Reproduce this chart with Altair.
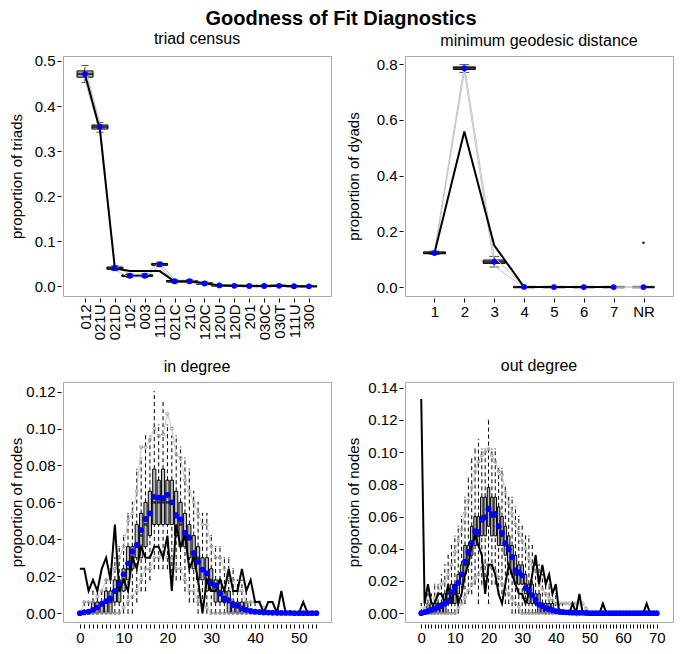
import json
import altair as alt
import pandas as pd

# ---------------- data ----------------
TRIAD_LABELS = ["012", "021U", "021D", "102", "003", "111D", "021C", "210",
                "120C", "120U", "120D", "201", "030C", "030T", "111U", "300"]
triad_q1 = [0.464, 0.349, 0.038, 0.0225, 0.0225, 0.047, 0.010, 0.010, 0.005, 0.0015, 0.001, 0.0005, 0.0005, 0.001, 0.0, 0.0]
triad_med = [0.471, 0.354, 0.0405, 0.024, 0.024, 0.049, 0.0115, 0.0115, 0.0065, 0.002, 0.0015, 0.001, 0.001, 0.0015, 0.0005, 0.0002]
triad_q3 = [0.478, 0.358, 0.043, 0.0255, 0.0255, 0.051, 0.013, 0.013, 0.008, 0.003, 0.002, 0.0015, 0.0015, 0.002, 0.001, 0.0005]
triad_wlo = [0.452, 0.342, 0.035, 0.020, 0.020, 0.044, 0.008, 0.008, 0.004, 0.0005, 0.0, 0.0, 0.0, 0.0, 0.0, 0.0]
triad_whi = [0.490, 0.364, 0.046, 0.028, 0.028, 0.054, 0.015, 0.015, 0.010, 0.004, 0.003, 0.0025, 0.0025, 0.003, 0.002, 0.001]
triad_glo = [0.456, 0.344, 0.036, 0.021, 0.021, 0.045, 0.009, 0.009, 0.0045, 0.001, 0.0005, 0.0, 0.0, 0.0005, 0.0, 0.0]
triad_ghi = [0.486, 0.362, 0.045, 0.027, 0.027, 0.053, 0.014, 0.014, 0.009, 0.0035, 0.0025, 0.002, 0.002, 0.0025, 0.0015, 0.0008]
triad_mean = [0.471, 0.354, 0.0405, 0.0237, 0.0237, 0.049, 0.0115, 0.0115, 0.0065, 0.0022, 0.0014, 0.001, 0.001, 0.0014, 0.0005, 0.0003]
triad_obs = [0.470, 0.347, 0.040, 0.034, 0.034, 0.034, 0.011, 0.0115, 0.007, 0.002, 0.0015, 0.0008, 0.0008, 0.0015, 0.0003, 0.0002]

GEO_LABELS = ["1", "2", "3", "4", "5", "6", "7", "NR"]
geo_q1 = [0.120, 0.781, 0.085, 0.0, 0.0, 0.0, 0.0, 0.0]
geo_med = [0.1225, 0.785, 0.090, 0.0, 0.0, 0.0, 0.0, 0.0]
geo_q3 = [0.126, 0.790, 0.097, 0.0, 0.0, 0.0, 0.0, 0.0]
geo_wlo = [0.117, 0.770, 0.072, 0.0, 0.0, 0.0, 0.0, 0.0]
geo_whi = [0.129, 0.798, 0.110, 0.002, 0.0, 0.0, 0.0, 0.0]
geo_glo = [0.119, 0.772, 0.075, 0.0, 0.0, 0.0, 0.0, 0.0]
geo_ghi = [0.127, 0.797, 0.108, 0.002, 0.0, 0.0, 0.0, 0.0]
geo_mean = [0.1224, 0.785, 0.091, 0.0005, 0.0, 0.0, 0.0, 0.0]
geo_obs = [0.122, 0.558, 0.150, 0.0, 0.0, 0.0, 0.0, 0.159]

IN_DEG = list(range(55))
in_q1 = [0, 0, 0, 0, 0, 0, 0, 0, 0.006, 0.006,
         0.012, 0.018, 0.024, 0.030, 0.030, 0.036, 0.042, 0.048, 0.048, 0.048,
         0.048, 0.048, 0.042, 0.036, 0.036, 0.030, 0.024, 0.018, 0.018, 0.012,
         0.012, 0.006, 0.006, 0.006, 0, 0, 0, 0, 0, 0,
         0, 0, 0, 0, 0, 0, 0, 0, 0, 0, 0, 0, 0, 0, 0]
in_med = [0, 0, 0, 0, 0, 0.006, 0.006, 0.006, 0.012, 0.012,
          0.018, 0.024, 0.030, 0.036, 0.042, 0.048, 0.054, 0.060, 0.060, 0.060,
          0.060, 0.060, 0.054, 0.048, 0.042, 0.042, 0.030, 0.030, 0.024, 0.018,
          0.018, 0.012, 0.012, 0.006, 0.006, 0.006, 0, 0, 0, 0,
          0, 0, 0, 0, 0, 0, 0, 0, 0, 0, 0, 0, 0, 0, 0]
in_q3 = [0, 0, 0, 0.006, 0.006, 0.006, 0.012, 0.012, 0.018, 0.018,
         0.024, 0.036, 0.036, 0.048, 0.054, 0.060, 0.066, 0.078, 0.072, 0.078,
         0.072, 0.072, 0.066, 0.060, 0.054, 0.048, 0.042, 0.036, 0.030, 0.030,
         0.024, 0.018, 0.018, 0.012, 0.012, 0.006, 0.006, 0.006, 0.006, 0,
         0, 0, 0, 0, 0, 0, 0, 0, 0, 0, 0, 0, 0, 0, 0]
in_wlo = [0, 0, 0, 0, 0, 0, 0, 0, 0, 0,
          0, 0, 0, 0.006, 0.012, 0.012, 0.018, 0.024, 0.024, 0.024,
          0.024, 0.018, 0.018, 0.018, 0.012, 0.006, 0.006, 0, 0, 0,
          0, 0, 0, 0, 0, 0, 0, 0, 0, 0,
          0, 0, 0, 0, 0, 0, 0, 0, 0, 0, 0, 0, 0, 0, 0]
in_whi = [0, 0.006, 0.006, 0.012, 0.012, 0.012, 0.018, 0.024, 0.030, 0.036,
          0.042, 0.054, 0.060, 0.078, 0.084, 0.096, 0.096, 0.120, 0.102, 0.114,
          0.102, 0.096, 0.096, 0.090, 0.084, 0.078, 0.066, 0.060, 0.054, 0.054,
          0.042, 0.036, 0.036, 0.030, 0.030, 0.024, 0.018, 0.018, 0.012, 0.006,
          0.006, 0, 0, 0, 0, 0, 0, 0, 0, 0, 0, 0, 0, 0, 0]
in_glo = [0, 0, 0, 0, 0, 0, 0, 0, 0, 0,
          0.003, 0.006, 0.009, 0.012, 0.018, 0.024, 0.024, 0.030, 0.030, 0.033,
          0.030, 0.030, 0.024, 0.024, 0.018, 0.012, 0.012, 0.006, 0.006, 0.003,
          0, 0, 0, 0, 0, 0, 0, 0, 0, 0,
          0, 0, 0, 0, 0, 0, 0, 0, 0, 0, 0, 0, 0, 0, 0]
in_ghi = [0, 0.006, 0.006, 0.006, 0.009, 0.012, 0.018, 0.018, 0.024, 0.030,
          0.036, 0.050, 0.054, 0.066, 0.090, 0.090, 0.094, 0.100, 0.096, 0.097,
          0.108, 0.100, 0.086, 0.084, 0.072, 0.066, 0.060, 0.054, 0.048, 0.048,
          0.036, 0.030, 0.030, 0.024, 0.018, 0.018, 0.012, 0.012, 0.006, 0.006,
          0.006, 0.006, 0.003, 0, 0, 0, 0, 0, 0, 0, 0, 0, 0, 0, 0]
in_mean = [0.0, 0.0004, 0.0008, 0.0018, 0.0030, 0.0050, 0.0065, 0.0080, 0.0120, 0.0158,
           0.0210, 0.0270, 0.0334, 0.0370, 0.0450, 0.0510, 0.0540, 0.0630, 0.0625, 0.0623,
           0.0640, 0.0600, 0.0528, 0.0507, 0.0435, 0.0408, 0.0326, 0.0278, 0.0236, 0.0215,
           0.0162, 0.0150, 0.0106, 0.0080, 0.0070, 0.0044, 0.0040, 0.0026, 0.0018, 0.0012,
           0.0008, 0.0006, 0.0004, 0.0003, 0.0002, 0.0002, 0.0001, 0.0001, 0.0001, 0.0,
           0.0, 0.0, 0.0, 0.0, 0.0]
in_obs = [0.024, 0.024, 0.012, 0.018, 0.012, 0.024, 0.030, 0.018, 0.048, 0.012,
          0.018, 0.012, 0.030, 0.024, 0.036, 0.030, 0.030, 0.036, 0.036, 0.030,
          0.042, 0.012, 0.048, 0.036, 0.042, 0.024, 0.030, 0.018, 0.000, 0.018,
          0.012, 0.012, 0.018, 0.012, 0.024, 0.012, 0.012, 0.024, 0.012, 0.018,
          0.006, 0.006, 0.000, 0.006, 0.006, 0.000, 0.012, 0.000, 0.000, 0.000,
          0.000, 0.006, 0.000, 0.000, 0.000]

OUT_DEG = list(range(71))
out_q1 = [0, 0, 0, 0, 0, 0, 0, 0, 0.006, 0.006,
          0.006, 0.012, 0.018, 0.024, 0.030, 0.036, 0.042, 0.042, 0.048, 0.048,
          0.054, 0.048, 0.048, 0.042, 0.042, 0.036, 0.030, 0.024, 0.018, 0.018,
          0.018, 0.012, 0.006, 0.006, 0.006, 0, 0, 0, 0, 0] + [0] * 31
out_med = [0, 0, 0, 0, 0, 0.006, 0.006, 0.006, 0.006, 0.012,
           0.012, 0.018, 0.024, 0.030, 0.036, 0.042, 0.048, 0.048, 0.060, 0.060,
           0.066, 0.060, 0.060, 0.054, 0.048, 0.042, 0.042, 0.036, 0.024, 0.024,
           0.024, 0.018, 0.012, 0.012, 0.006, 0.006, 0.006, 0, 0, 0] + [0] * 31
out_q3 = [0, 0, 0.006, 0.006, 0.006, 0.006, 0.006, 0.012, 0.012, 0.018,
          0.018, 0.024, 0.030, 0.042, 0.042, 0.054, 0.060, 0.060, 0.072, 0.072,
          0.078, 0.072, 0.072, 0.066, 0.060, 0.054, 0.048, 0.042, 0.036, 0.030,
          0.030, 0.024, 0.018, 0.018, 0.012, 0.012, 0.006, 0.006, 0.006, 0.006] + [0] * 31
out_wlo = [0, 0, 0, 0, 0, 0, 0, 0, 0, 0,
           0, 0, 0.006, 0.006, 0.012, 0.012, 0.018, 0.006, 0.018, 0.018,
           0.006, 0.018, 0.018, 0.012, 0.012, 0.006, 0.006, 0, 0, 0] + [0] * 41
out_whi = [0.006, 0.006, 0.012, 0.012, 0.018, 0.018, 0.024, 0.030, 0.036, 0.042,
           0.048, 0.054, 0.060, 0.072, 0.084, 0.096, 0.102, 0.108, 0.102, 0.102,
           0.120, 0.102, 0.102, 0.090, 0.090, 0.078, 0.072, 0.072, 0.066, 0.060,
           0.054, 0.048, 0.048, 0.042, 0.036, 0.030, 0.024, 0.018, 0.018, 0.012,
           0.012, 0.006, 0.006] + [0] * 28
out_glo = [0, 0, 0, 0, 0, 0, 0, 0, 0, 0,
           0, 0.003, 0.006, 0.010, 0.014, 0.018, 0.022, 0.024, 0.028, 0.030,
           0.030, 0.028, 0.026, 0.022, 0.018, 0.015, 0.012, 0.009, 0.006, 0.004] + [0] * 41
out_ghi = [0, 0.003, 0.006, 0.006, 0.009, 0.012, 0.018, 0.020, 0.024, 0.030,
           0.038, 0.045, 0.052, 0.062, 0.070, 0.078, 0.088, 0.094, 0.098, 0.100,
           0.102, 0.098, 0.094, 0.088, 0.086, 0.075, 0.068, 0.062, 0.055, 0.050,
           0.045, 0.040, 0.034, 0.030, 0.026, 0.020, 0.015, 0.012, 0.009, 0.008,
           0.006, 0.006, 0.006, 0.006, 0.006, 0.006, 0.006, 0.006, 0.006, 0.003] + [0] * 21
out_mean = [0.0, 0.0006, 0.0012, 0.0020, 0.0028, 0.0036, 0.0044, 0.0060, 0.0078, 0.0130,
            0.0160, 0.0190, 0.0240, 0.0320, 0.0380, 0.0437, 0.0510, 0.0505, 0.0580, 0.0595,
            0.0646, 0.0615, 0.0616, 0.0540, 0.0498, 0.0434, 0.0397, 0.0346, 0.0265, 0.0255,
            0.0235, 0.0154, 0.0144, 0.0110, 0.0083, 0.0053, 0.0043, 0.0032, 0.0024, 0.0018,
            0.0013, 0.0010, 0.0007, 0.0005, 0.0004, 0.0003, 0.0003, 0.0002, 0.0002, 0.0001] + [0.0] * 21
out_obs = [0.133, 0.006, 0.018, 0.006, 0.006, 0.012, 0.012, 0.006, 0.018, 0.006,
           0.018, 0.006, 0.012, 0.024, 0.030, 0.042, 0.048, 0.042, 0.036, 0.012,
           0.030, 0.030, 0.024, 0.012, 0.006, 0.018, 0.030, 0.024, 0.018, 0.012,
           0.012, 0.006, 0.012, 0.024, 0.036, 0.018, 0.030, 0.018, 0.024, 0.012,
           0.018, 0.0, 0.0, 0.0, 0.0, 0.006, 0.0, 0.012, 0.0, 0.0,
           0.0, 0.0, 0.0, 0.0, 0.006, 0.0, 0.0, 0.0, 0.0, 0.0,
           0.0, 0.0, 0.0, 0.0, 0.0, 0.0, 0.0, 0.006, 0.0, 0.0, 0.0]

FONT = "Liberation Sans"
W, H = 268, 240


def frame(pos, q1, med, q3, wlo, whi, glo, ghi, mean, obs):
    return pd.DataFrame({"pos": pos, "q1": q1, "med": med, "q3": q3, "wlo": wlo,
                         "whi": whi, "glo": glo, "ghi": ghi, "mean": mean, "obs": obs})


def panel(df, title, ytitle, xdomain, xvalues, xlabel_expr, xangle, ydomain, yvalues,
          yfmt, box_px, title_x, bound_points, obs_filter=None, extra=None):
    xscale = alt.Scale(domain=xdomain, nice=False, zero=False)
    xaxis = alt.Axis(values=xvalues, labelExpr=xlabel_expr, labelAngle=xangle,
                     labelOverlap=False, labelFlush=False, title=None)
    yscale = alt.Scale(domain=ydomain, nice=False, zero=False)
    yaxis = alt.Axis(values=yvalues, format=yfmt, title=ytitle, titleX=title_x,
                     titleY=H / 2, titleBaseline="middle", titleAngle=270,
                     labelFlush=False, labelOverlap=False)

    def X():
        return alt.X("pos:Q", scale=xscale, axis=xaxis)

    def Y(f):
        return alt.Y(f + ":Q", scale=yscale, axis=yaxis)

    base = alt.Chart(df)
    cap = max(box_px * 0.45, 1.5)
    layers = [
        base.mark_rule(color="black", strokeWidth=1, strokeDash=[4, 3]).encode(
            x=X(), y=Y("q3"), y2="whi:Q"),
        base.mark_rule(color="black", strokeWidth=1, strokeDash=[4, 3]).encode(
            x=X(), y=Y("wlo"), y2="q1:Q"),
        base.mark_tick(orient="horizontal", size=cap, thickness=1,
                       color="black").encode(x=X(), y=Y("whi")),
        base.mark_tick(orient="horizontal", size=cap, thickness=1,
                       color="black").encode(x=X(), y=Y("wlo")),
        base.mark_bar(size=box_px, fill="#bdbdbd", stroke="black", strokeWidth=1).encode(
            x=X(), y=Y("q1"), y2="q3:Q"),
        base.mark_tick(orient="horizontal", size=box_px, thickness=2.5,
                       color="black").encode(x=X(), y=Y("med")),
        base.mark_line(color="#c4c4c4", strokeWidth=1).encode(x=X(), y=Y("glo")),
        base.mark_line(color="#c4c4c4", strokeWidth=1).encode(x=X(), y=Y("ghi")),
    ]
    if bound_points:
        layers += [
            base.mark_point(shape="circle", filled=False, size=9, color="#8a8a8a",
                            strokeWidth=0.8, opacity=1).encode(x=X(), y=Y("ghi")),
            base.mark_point(shape="circle", filled=False, size=9, color="#8a8a8a",
                            strokeWidth=0.8, opacity=1).encode(x=X(), y=Y("glo")),
        ]
    obs_chart = base.mark_line(color="black", strokeWidth=2).encode(x=X(), y=Y("obs"))
    if obs_filter:
        obs_chart = obs_chart.transform_filter(obs_filter)
    layers.append(obs_chart)
    if extra is not None:
        layers.append(extra(base, X, Y))
    layers.append(base.mark_point(shape="circle", filled=True, size=34, color="#0000ff",
                                  opacity=1).encode(x=X(), y=Y("mean")))
    return alt.layer(*layers).properties(
        width=W, height=H,
        title=alt.TitleParams(title, fontSize=16, fontWeight="normal", font=FONT,
                              offset=7, anchor="middle", color="black"))


triad_df = frame(list(range(1, 17)), triad_q1, triad_med, triad_q3, triad_wlo, triad_whi,
                 triad_glo, triad_ghi, triad_mean, triad_obs)
geo_df = frame(list(range(1, 9)), geo_q1, geo_med, geo_q3, geo_wlo, geo_whi,
               geo_glo, geo_ghi, geo_mean, geo_obs)
in_df = frame(IN_DEG, in_q1, in_med, in_q3, in_wlo, in_whi, in_glo, in_ghi, in_mean, in_obs)
out_df = frame(OUT_DEG, out_q1, out_med, out_q3, out_wlo, out_whi, out_glo, out_ghi,
               out_mean, out_obs)

triad_expr = json.dumps(TRIAD_LABELS) + "[datum.value - 1]"
geo_expr = json.dumps(GEO_LABELS) + "[datum.value - 1]"
deg_expr = "datum.value % 10 === 0 ? datum.label : ''"

triad = panel(triad_df, "triad census", "proportion of triads", [-0.14, 17.14],
              list(range(1, 17)), triad_expr, 270, [-0.0212, 0.511],
              [0.0, 0.1, 0.2, 0.3, 0.4, 0.5], ".1f", 16, -45, False)


def nr_point(base, X, Y):
    return base.mark_point(shape="circle", filled=True, size=6, color="black",
                           opacity=1).encode(x=X(), y=Y("obs")).transform_filter(
        "datum.pos == 8")


geo = panel(geo_df, "minimum geodesic distance", "proportion of dyads", [0.18, 8.82],
            list(range(1, 9)), geo_expr, 0, [-0.032, 0.829],
            [0.0, 0.2, 0.4, 0.6, 0.8], ".1f", 22, -50, False,
            obs_filter="datum.pos <= 7", extra=nr_point)

indeg = panel(in_df, "in degree", "proportion of nodes", [-2.7, 56.2], IN_DEG, deg_expr, 0,
              [-0.0048, 0.1252], [0.0, 0.02, 0.04, 0.06, 0.08, 0.10, 0.12], ".2f",
              3.2, -45, True)
outdeg = panel(out_df, "out degree", "proportion of nodes", [-3.34, 73.34], OUT_DEG,
               deg_expr, 0, [-0.0055, 0.1436],
               [0.0, 0.02, 0.04, 0.06, 0.08, 0.10, 0.12, 0.14], ".2f", 2.5, -50, True)

chart = alt.concat(
    triad, geo, indeg, outdeg, columns=2,
    spacing=alt.RowColnumber(row=86, column=74), bounds="flush",
).properties(
    title=alt.TitleParams("Goodness of Fit Diagnostics", fontSize=20, fontWeight="bold",
                          font=FONT, anchor="middle", offset=1, color="black"),
    padding={"top": 1, "left": 0, "right": 0, "bottom": 0},
    background="white",
).configure_view(
    stroke="#a8a8a8", strokeWidth=1
).configure_axis(
    domain=False, grid=False, ticks=True, tickColor="black", tickSize=4, offset=2,
    labelFont=FONT, labelFontSize=15, labelColor="black", labelPadding=2,
    titleFont=FONT, titleFontSize=15, titleFontWeight="normal", titleColor="black",
)

chart.save("out.html", embed_options={"renderer": "svg", "actions": False})
